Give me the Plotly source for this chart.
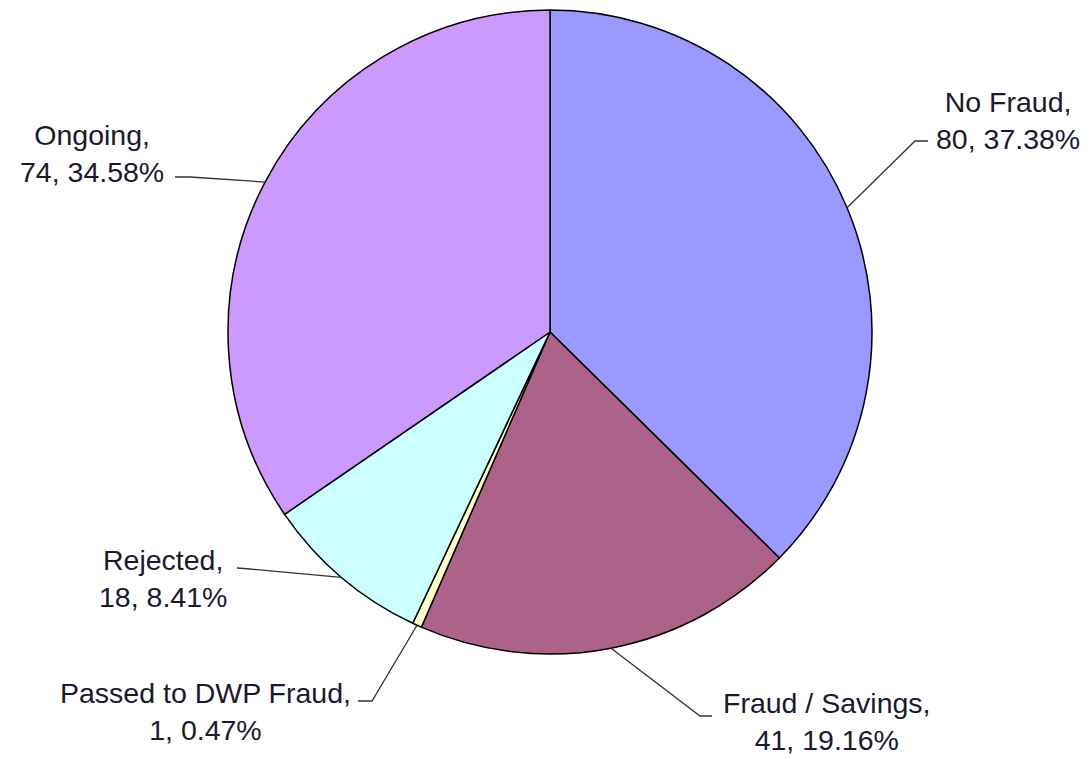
import math
import plotly.graph_objects as go

# ---- data ----
categories = ["No Fraud", "Fraud / Savings", "Passed to DWP Fraud", "Rejected", "Ongoing"]
counts = [80, 41, 1, 18, 74]
percent_labels = ["37.38%", "19.16%", "0.47%", "8.41%", "34.58%"]
colors = ["#9999FF", "#AD6289", "#FFFFCC", "#CCFFFF", "#CC99FF"]

# ---- layout constants (pixels in the screenshot) ----
OFF = 8  # page body margin
W, H = 1092 - OFF, 759 - OFF
CX, CY, R = 550, 332, 322
label_layout = [
    dict(tx=1008, ty=120, line_mid=(915, 141), line_end=(928, 141)),
    dict(tx=827, ty=721, line_mid=(700, 716), line_end=(712, 716)),
    dict(tx=205, ty=711, line_mid=(372, 701), line_end=(358, 701)),
    dict(tx=163, ty=578, line_mid=(250, 569), line_end=(237, 568)),
    dict(tx=92, ty=153, line_mid=(190, 177), line_end=(175, 177)),
]


def px(x):
    return (x - OFF) / W


def py(y):
    return 1 - (y - OFF) / H


fig = go.Figure()
fig.add_trace(go.Pie(
    labels=categories,
    values=counts,
    sort=False,
    direction="clockwise",
    rotation=0,
    marker=dict(colors=colors, line=dict(color="#000000", width=1.5)),
    textinfo="none",
    hoverinfo="label+value+percent",
    domain=dict(x=[px(CX - R), px(CX + R)], y=[py(CY + R), py(CY - R)]),
    showlegend=False,
))

total = sum(counts)
cum = 0
annotations = []
shapes = []
for cat, val, pct, lay in zip(categories, counts, percent_labels, label_layout):
    mid_frac = (cum + val / 2) / total
    cum += val
    ang = 2 * math.pi * mid_frac  # clockwise from 12 o'clock
    sx = CX + R * math.sin(ang)
    sy = CY - R * math.cos(ang)
    mx, my = lay["line_mid"]
    ex, ey = lay["line_end"]
    path = "M {} {} L {} {} L {} {}".format(px(sx), py(sy), px(mx), py(my), px(ex), py(ey))
    shapes.append(dict(type="path", xref="paper", yref="paper", path=path,
                       line=dict(color="#333333", width=1.3)))
    text = f"{cat},<br>{val}, {pct}"
    annotations.append(dict(
        x=px(lay["tx"]), y=py(lay["ty"]), xref="paper", yref="paper",
        text=text, showarrow=False, xanchor="center", yanchor="middle",
        align="center", borderpad=0,
        font=dict(family="Liberation Sans, Arial, sans-serif", size=28.5, color="#1a1a2e"),
    ))

fig.update_layout(
    width=W, height=H,
    margin=dict(l=0, r=0, t=0, b=0),
    paper_bgcolor="#FFFFFF",
    plot_bgcolor="#FFFFFF",
    annotations=annotations,
    shapes=shapes,
    showlegend=False,
)

fig.write_html("out.html")
